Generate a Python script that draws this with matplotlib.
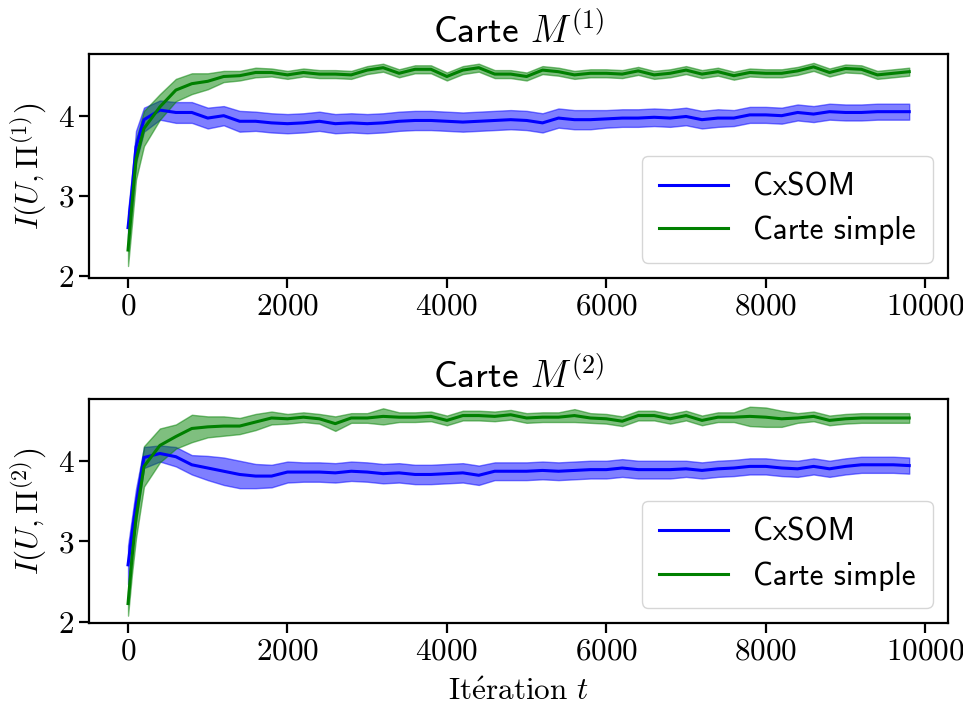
import numpy as np
import matplotlib
matplotlib.use("Agg")
import matplotlib.pyplot as plt

plt.rcParams["font.family"] = "cmr10"
plt.rcParams["mathtext.fontset"] = "cm"
plt.rcParams["axes.unicode_minus"] = False
plt.rcParams["axes.formatter.use_mathtext"] = True

# iterations: dense at the start, then every 200
iterations = np.array([0, 50, 100] + list(range(200, 9801, 200)))

# carte M(1)
cx1_mean = [2.60, 3.07, 3.61, 3.95, 4.07, 4.04, 4.04, 3.97, 4.00, 3.93, 3.93, 3.91, 3.90,
            3.91, 3.93, 3.90, 3.91, 3.90, 3.91, 3.93, 3.94, 3.94, 3.93,
            3.92, 3.93, 3.94, 3.95, 3.94, 3.91, 3.97, 3.95, 3.95, 3.96,
            3.97, 3.97, 3.98, 3.97, 3.99, 3.95, 3.97, 3.97, 4.01, 4.01,
            4.00, 4.04, 4.02, 4.05, 4.04, 4.04, 4.05, 4.05, 4.05]
cx1_std = [0.20, 0.20, 0.20, 0.15, 0.12, 0.13, 0.13, 0.13, 0.12, 0.13, 0.12, 0.12, 0.12,
           0.12, 0.12, 0.12, 0.12, 0.12, 0.12, 0.12, 0.12, 0.12, 0.12,
           0.12, 0.12, 0.12, 0.12, 0.12, 0.12, 0.12, 0.12, 0.12, 0.11,
           0.11, 0.11, 0.11, 0.11, 0.11, 0.11, 0.11, 0.10, 0.10, 0.10,
           0.10, 0.10, 0.10, 0.10, 0.10, 0.10, 0.10, 0.10, 0.10]
simple1_mean = [2.32, 2.90, 3.45, 3.84, 4.11, 4.32, 4.40, 4.43, 4.49, 4.50, 4.54, 4.54, 4.51,
                4.54, 4.52, 4.52, 4.51, 4.57, 4.60, 4.53, 4.58, 4.58, 4.49,
                4.57, 4.60, 4.52, 4.52, 4.49, 4.57, 4.55, 4.51, 4.53, 4.53,
                4.52, 4.56, 4.51, 4.53, 4.57, 4.52, 4.55, 4.50, 4.54, 4.53,
                4.53, 4.56, 4.61, 4.54, 4.59, 4.58, 4.51, 4.53, 4.55]
simple1_std = [0.20, 0.25, 0.25, 0.22, 0.16, 0.14, 0.13, 0.10, 0.07, 0.06, 0.06, 0.05, 0.05,
               0.05, 0.05, 0.05, 0.05, 0.05, 0.05, 0.05, 0.05, 0.05, 0.05,
               0.05, 0.05, 0.05, 0.05, 0.05, 0.05, 0.05, 0.05, 0.05, 0.05,
               0.05, 0.05, 0.05, 0.05, 0.05, 0.05, 0.05, 0.05, 0.05, 0.05,
               0.05, 0.05, 0.05, 0.05, 0.05, 0.05, 0.05, 0.05, 0.05]

# carte M(2)
cx2_mean = [2.71, 3.10, 3.45, 4.04, 4.09, 4.05, 3.95, 3.91, 3.87, 3.83, 3.81, 3.81, 3.86,
            3.86, 3.86, 3.85, 3.87, 3.86, 3.84, 3.85, 3.83, 3.83, 3.84,
            3.85, 3.82, 3.87, 3.87, 3.87, 3.88, 3.87, 3.88, 3.89, 3.89,
            3.91, 3.89, 3.89, 3.89, 3.90, 3.88, 3.90, 3.91, 3.93, 3.93,
            3.91, 3.90, 3.93, 3.90, 3.93, 3.95, 3.95, 3.95, 3.94]
cx2_std = [0.24, 0.20, 0.20, 0.13, 0.10, 0.12, 0.12, 0.15, 0.17, 0.17, 0.15, 0.14, 0.13,
           0.12, 0.12, 0.12, 0.12, 0.12, 0.12, 0.12, 0.12, 0.12, 0.12,
           0.12, 0.12, 0.11, 0.11, 0.11, 0.11, 0.11, 0.11, 0.11, 0.11,
           0.11, 0.11, 0.11, 0.11, 0.10, 0.10, 0.10, 0.10, 0.10, 0.10,
           0.10, 0.10, 0.10, 0.10, 0.10, 0.10, 0.10, 0.10, 0.10]
simple2_mean = [2.23, 2.80, 3.29, 3.93, 4.19, 4.30, 4.40, 4.42, 4.43, 4.43, 4.48, 4.53, 4.52,
                4.54, 4.52, 4.46, 4.53, 4.53, 4.55, 4.54, 4.54, 4.55, 4.50,
                4.56, 4.56, 4.55, 4.57, 4.53, 4.54, 4.54, 4.56, 4.53, 4.52,
                4.49, 4.56, 4.56, 4.52, 4.56, 4.50, 4.54, 4.54, 4.55, 4.54,
                4.52, 4.53, 4.55, 4.50, 4.52, 4.53, 4.53, 4.53, 4.53]
simple2_std = [0.15, 0.20, 0.25, 0.25, 0.21, 0.15, 0.17, 0.13, 0.12, 0.10, 0.10, 0.08, 0.06,
               0.06, 0.06, 0.09, 0.06, 0.06, 0.10, 0.06, 0.06, 0.06, 0.06,
               0.06, 0.06, 0.06, 0.06, 0.06, 0.06, 0.06, 0.08, 0.06, 0.06,
               0.06, 0.06, 0.06, 0.06, 0.06, 0.06, 0.06, 0.06, 0.12, 0.12,
               0.10, 0.06, 0.06, 0.06, 0.06, 0.06, 0.06, 0.06, 0.06]

panels = [
    ("Carte $M^{(1)}$", r"$I(U,\Pi^{(1)})$", cx1_mean, cx1_std, simple1_mean, simple1_std),
    ("Carte $M^{(2)}$", r"$I(U,\Pi^{(2)})$", cx2_mean, cx2_std, simple2_mean, simple2_std),
]

fig = plt.figure(figsize=(9.63, 7.08), dpi=100)
ax_top = fig.add_axes([0.0924, 0.607, 0.8923, 0.3167])
ax_bot = fig.add_axes([0.0924, 0.1196, 0.8923, 0.3168])

FS = 22.5
for ax, (title, ylab, cm, cs, sm, ss) in zip([ax_top, ax_bot], panels):
    cm, cs, sm, ss = map(np.array, (cm, cs, sm, ss))
    ax.plot(iterations, cm, color="blue", lw=2.2, label="CxSOM")
    ax.fill_between(iterations, cm - cs, cm + cs, color="blue", alpha=0.5)
    ax.plot(iterations, sm, color="green", lw=2.2, label="Carte simple")
    ax.fill_between(iterations, sm - ss, sm + ss, color="green", alpha=0.5)
    ax.set_title(title, fontsize=27, family="cmss10", pad=8)
    ax.set_ylabel(ylab, fontsize=FS, labelpad=6)
    ax.set_xlim(-490, 10290)
    ax.set_xticks([0, 2000, 4000, 6000, 8000, 10000])
    ax.set_yticks([2, 3, 4])
    ax.tick_params(labelsize=FS, width=1.6, length=7)
    for sp in ax.spines.values():
        sp.set_linewidth(1.6)
    ax.legend(loc="lower right", prop={"family": "cmss10", "size": FS},
              handlelength=2.2, borderpad=0.55, labelspacing=0.45)

ax_top.set_ylim(1.967, 4.771)
ax_bot.set_ylim(1.985, 4.765)
ax_bot.set_xlabel(r"$\mathrm{It\acute{e}ration}\ t$", fontsize=FS, labelpad=9)

fig.savefig("out.png", dpi=100)
